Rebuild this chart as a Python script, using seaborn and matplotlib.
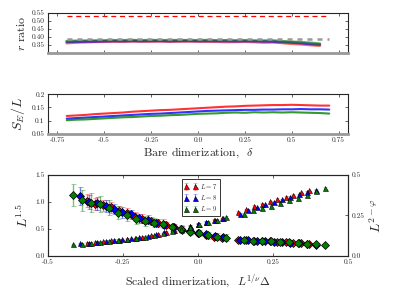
import numpy as np
import pandas as pd
import matplotlib
matplotlib.use("Agg")
import matplotlib.pyplot as plt
import seaborn as sns

sns.set_style("ticks")
plt.rcParams['font.family'] = ['cmr10']
plt.rcParams['mathtext.fontset'] = 'cm'
plt.rcParams['axes.unicode_minus'] = False
plt.rcParams['axes.formatter.use_mathtext'] = True

# data
sizes = ["7", "8", "9"]
colors = {"7": "red", "8": "blue", "9": "green"}

delta_top = [-0.7, -0.65, -0.6, -0.55, -0.5, -0.45, -0.4, -0.35, -0.3, -0.25, -0.2, -0.15, -0.1, -0.05,
             0.0, 0.05, 0.1, 0.15, 0.2, 0.25, 0.3, 0.35, 0.4, 0.45, 0.5, 0.55, 0.6, 0.65]
r_L7 = [0.362, 0.366, 0.368, 0.370, 0.371, 0.372, 0.371, 0.373, 0.372, 0.372, 0.373, 0.371, 0.372, 0.373,
        0.372, 0.371, 0.371, 0.369, 0.370, 0.371, 0.369, 0.366, 0.367, 0.363, 0.358, 0.355, 0.350, 0.346]
r_L8 = [0.370, 0.371, 0.372, 0.372, 0.374, 0.375, 0.375, 0.376, 0.375, 0.376, 0.376, 0.375, 0.376, 0.376,
        0.375, 0.376, 0.375, 0.375, 0.374, 0.375, 0.374, 0.373, 0.372, 0.369, 0.366, 0.362, 0.357, 0.353]
r_L9 = [0.374, 0.376, 0.377, 0.378, 0.378, 0.379, 0.379, 0.380, 0.379, 0.380, 0.379, 0.379, 0.380, 0.379,
        0.379, 0.380, 0.378, 0.379, 0.378, 0.379, 0.377, 0.377, 0.378, 0.373, 0.370, 0.367, 0.363, 0.358]
r_goe = 0.5307
r_poisson = 0.386

delta_mid = delta_top + [0.7]
S_L7 = [0.118, 0.120, 0.122, 0.125, 0.127, 0.129, 0.131, 0.134, 0.136, 0.138, 0.140, 0.141, 0.143, 0.145, 0.147,
        0.149, 0.151, 0.153, 0.154, 0.156, 0.157, 0.158, 0.159, 0.159, 0.160, 0.159, 0.158, 0.157, 0.157]
S_L8 = [0.108, 0.110, 0.112, 0.114, 0.116, 0.118, 0.120, 0.122, 0.124, 0.126, 0.127, 0.129, 0.131, 0.133, 0.135,
        0.137, 0.138, 0.139, 0.140, 0.141, 0.141, 0.142, 0.142, 0.143, 0.143, 0.144, 0.143, 0.143, 0.142]
S_L9 = [0.102, 0.104, 0.105, 0.107, 0.109, 0.111, 0.113, 0.114, 0.116, 0.118, 0.119, 0.121, 0.122, 0.124, 0.126,
        0.127, 0.128, 0.130, 0.131, 0.130, 0.132, 0.131, 0.132, 0.131, 0.132, 0.131, 0.130, 0.129, 0.127]

# collapse, left branch (left axis)
xl = {
    "7": [-0.370, -0.344, -0.317, -0.291, -0.264, -0.238, -0.211, -0.185, -0.158, -0.132, -0.105, -0.079, -0.052, -0.026, 0.001, 0.027, 0.054, 0.080],
    "8": [-0.392, -0.364, -0.336, -0.308, -0.280, -0.252, -0.224, -0.196, -0.168, -0.140, -0.112, -0.084, -0.056, -0.028, 0.000, 0.028, 0.056, 0.084],
    "9": [-0.416, -0.386, -0.356, -0.326, -0.296, -0.266, -0.236, -0.206, -0.176, -0.146, -0.116, -0.086, -0.056, -0.026, 0.004, 0.034, 0.064, 0.094],
}
diam_l = {
    "7": [1.02, 0.97, 0.94, 0.90, 0.84, 0.79, 0.73, 0.69, 0.65, 0.61, 0.57, 0.53, 0.49, 0.46, 0.42, 0.39, 0.36, 0.34],
    "8": [1.11, 1.00, 0.975, 0.93, 0.87, 0.81, 0.77, 0.70, 0.67, 0.62, 0.58, 0.54, 0.50, 0.46, 0.43, 0.40, 0.37, 0.35],
    "9": [1.13, 1.03, 0.99, 0.96, 0.89, 0.80, 0.75, 0.69, 0.65, 0.62, 0.60, 0.53, 0.50, 0.45, 0.43, 0.38, 0.36, 0.34],
}
diam_l_err = {
    "7": [0.12, 0.11, 0.10, 0.10, 0.09, 0.09, 0.08, 0.08, 0.07, 0.07, 0.06, 0.06, 0.06, 0.05, 0.05, 0.05, 0.04, 0.04],
    "8": [0.16, 0.13, 0.12, 0.11, 0.10, 0.10, 0.09, 0.08, 0.08, 0.07, 0.07, 0.06, 0.06, 0.05, 0.05, 0.05, 0.04, 0.04],
    "9": [0.21, 0.19, 0.17, 0.15, 0.14, 0.12, 0.11, 0.10, 0.09, 0.08, 0.08, 0.07, 0.07, 0.06, 0.06, 0.06, 0.07, 0.06],
}
tri_l = {
    "7": [0.25, 0.26, 0.275, 0.29, 0.30, 0.315, 0.33, 0.35, 0.38, 0.41, 0.45, 0.49, 0.52, 0.56, 0.60, 0.63, 0.67, 0.70],
    "8": [0.235, 0.25, 0.265, 0.28, 0.295, 0.31, 0.325, 0.345, 0.37, 0.40, 0.44, 0.48, 0.515, 0.555, 0.60, 0.635, 0.665, 0.70],
    "9": [0.215, 0.23, 0.245, 0.265, 0.28, 0.295, 0.31, 0.33, 0.355, 0.385, 0.42, 0.46, 0.50, 0.54, 0.59, 0.635, 0.675, 0.72],
}

# collapse, right branch (right axis)
xr = {
    "7": [0.133, 0.159, 0.186, 0.212, 0.239, 0.265, 0.292, 0.318, 0.345, 0.371],
    "8": [0.140, 0.168, 0.196, 0.224, 0.252, 0.280, 0.308, 0.336, 0.364, 0.392],
    "9": [0.154, 0.184, 0.214, 0.244, 0.274, 0.304, 0.334, 0.364, 0.394, 0.424],
}
tri_r = {
    "7": [0.272, 0.288, 0.308, 0.322, 0.338, 0.352, 0.364, 0.378, 0.392, 0.405],
    "8": [0.262, 0.285, 0.300, 0.318, 0.335, 0.350, 0.365, 0.380, 0.395, 0.410],
    "9": [0.262, 0.285, 0.298, 0.310, 0.330, 0.345, 0.360, 0.378, 0.398, 0.420],
}
diam_r = {
    "7": [0.098, 0.097, 0.095, 0.093, 0.091, 0.089, 0.086, 0.083, 0.080, 0.077],
    "8": [0.097, 0.096, 0.094, 0.092, 0.089, 0.086, 0.083, 0.079, 0.075, 0.071],
    "9": [0.096, 0.095, 0.093, 0.091, 0.088, 0.085, 0.081, 0.077, 0.072, 0.065],
}
diam_r_err = {
    "7": [0.008, 0.008, 0.007, 0.007, 0.007, 0.006, 0.006, 0.006, 0.006, 0.005],
    "8": [0.009, 0.008, 0.008, 0.007, 0.007, 0.007, 0.006, 0.006, 0.006, 0.005],
    "9": [0.012, 0.011, 0.015, 0.010, 0.009, 0.008, 0.008, 0.007, 0.007, 0.006],
}

df_r = pd.DataFrame({"delta": delta_top * 3, "r": r_L7 + r_L8 + r_L9,
                     "L": ["7"] * 28 + ["8"] * 28 + ["9"] * 28})
df_s = pd.DataFrame({"delta": delta_mid * 3, "S": S_L7 + S_L8 + S_L9,
                     "L": ["7"] * 29 + ["8"] * 29 + ["9"] * 29})

fig = plt.figure(figsize=(3.95, 2.96), dpi=100)
ax1 = fig.add_axes([0.1215, 0.821, 0.7595, 0.135])
ax2 = fig.add_axes([0.1215, 0.547, 0.7595, 0.135])
ax3 = fig.add_axes([0.1215, 0.135, 0.7595, 0.274])

TICK = 5.3


def style(ax):
    ax.tick_params(direction='in', top=True, right=True, labelsize=TICK, length=2, width=0.5, pad=2.5)
    for s in ax.spines.values():
        s.set_linewidth(0.8)


# r ratio
sns.lineplot(data=df_r, x="delta", y="r", hue="L", palette=colors, lw=2, alpha=0.6, legend=False, ax=ax1)
ax1.plot([-0.7, 0.7], [r_goe, r_goe], ls='--', color='red', lw=0.9, dashes=(4, 3))
ax1.plot([-0.7, 0.7], [r_poisson, r_poisson], ls='--', color='#999999', lw=1.8, dashes=(2, 2))
ax1.set_xlim(-0.8, 0.8)
ax1.set_ylim(0.3, 0.55)
ax1.set_xticks([-0.75, -0.5, -0.25, 0, 0.25, 0.5, 0.75])
ax1.set_xticklabels([])
ax1.set_yticks([0.35, 0.4, 0.45, 0.5, 0.55], ["0.35", "0.40", "0.45", "0.50", "0.55"])
ax1.set_xlabel("")
ax1.set_ylabel(r"$r$ ratio", fontsize=8.5, labelpad=3)
style(ax1)
ax1.spines['bottom'].set_color('#999999')
ax1.spines['bottom'].set_linewidth(2)

# entanglement entropy
sns.lineplot(data=df_s, x="delta", y="S", hue="L", palette=colors, lw=1.5, alpha=0.8, legend=False, ax=ax2)
ax2.set_xlim(-0.8, 0.8)
ax2.set_ylim(0.05, 0.2)
ax2.set_xticks([-0.75, -0.5, -0.25, 0, 0.25, 0.5, 0.75],
               ["-0.75", "-0.5", "-0.25", "0.0", "0.25", "0.5", "0.75"])
ax2.set_yticks([0.05, 0.1, 0.15, 0.2], ["0.05", "0.1", "0.15", "0.2"])
ax2.set_xlabel(r"Bare dimerization,  $\delta$", fontsize=8.5, labelpad=2)
ax2.set_ylabel(r"$S_E/L$", fontsize=10, labelpad=3)
style(ax2)
ax2.spines['bottom'].set_color('#999999')
ax2.spines['bottom'].set_linewidth(2)

# scaling collapse
ax4 = ax3.twinx()
for L in sizes:
    c = colors[L]
    ax3.errorbar(xl[L], diam_l[L], yerr=diam_l_err[L], fmt='D', color=c, ecolor=c, elinewidth=1.0,
                 capsize=1.8, capthick=0.8, ms=3.6, mec='black', mew=0.5, zorder=3)
    ax3.errorbar(xl[L], tri_l[L], yerr=0.012, fmt='^', color=c, ecolor=c, elinewidth=0.8,
                 capsize=1.2, ms=3.6, mec='black', mew=0.4, zorder=3, label=r"$L=%s$" % L)
    ax4.errorbar(xr[L], diam_r[L], yerr=diam_r_err[L], fmt='D', color=c, ecolor=c, elinewidth=1.0,
                 capsize=1.8, capthick=0.8, ms=3.6, mec='black', mew=0.5, zorder=3)
    ax4.errorbar(xr[L], tri_r[L], yerr=0.004, fmt='^', color=c, ecolor=c, elinewidth=0.8,
                 capsize=1.2, ms=3.6, mec='black', mew=0.4, zorder=3)
for cont in ax3.containers + ax4.containers:
    for b in cont[2]:
        b.set_alpha(0.5)
    for cap in cont[1]:
        cap.set_alpha(0.5)

ax3.set_xlim(-0.5, 0.5)
ax3.set_ylim(0, 1.5)
ax4.set_ylim(0, 0.5)
ax3.set_xticks([-0.5, -0.25, 0, 0.25, 0.5], ["-0.5", "-0.25", "0.0", "0.25", "0.5"])
ax3.set_yticks([0, 0.5, 1.0, 1.5], ["0.0", "0.5", "1.0", "1.5"])
ax4.set_yticks([0, 0.25, 0.5], ["0.0", "0.25", "0.5"])
ax3.set_xlabel(r"Scaled dimerization,  $L^{1/\nu}\Delta$", fontsize=8.5, labelpad=5)
ax3.set_ylabel(r"$L^{1.5}$", fontsize=10, labelpad=3)
ax4.set_ylabel(r"$L^{2-\varphi}$", fontsize=10, labelpad=3)
style(ax3)
ax4.tick_params(direction='in', labelsize=TICK, length=2, width=0.5, pad=2.5)
ax3.tick_params(right=False)
leg = ax3.legend(loc='upper left', bbox_to_anchor=(0.435, 0.985), fontsize=4.8, numpoints=2,
                 frameon=True, fancybox=False, edgecolor='black', handlelength=2.0,
                 borderpad=0.35, labelspacing=0.35, handletextpad=0.4)
leg.get_frame().set_linewidth(0.7)

fig.savefig("out.png", dpi=100)
